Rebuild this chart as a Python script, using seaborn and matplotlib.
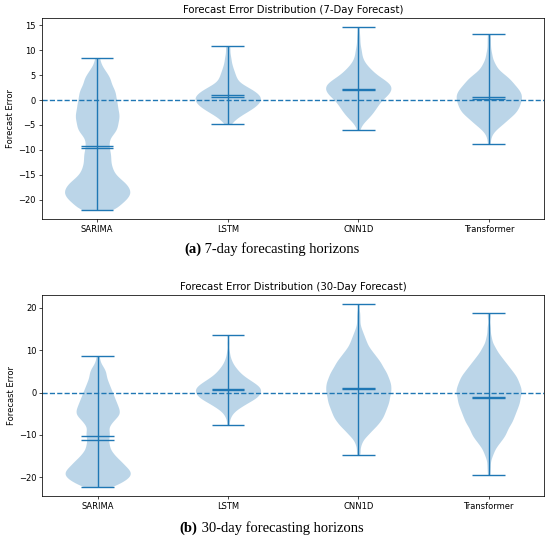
import numpy as np
import pandas as pd
import matplotlib
matplotlib.use("Agg")
import matplotlib.pyplot as plt
from matplotlib.ticker import MultipleLocator
import seaborn as sns

# ---------------- data ----------------
models = ["SARIMA", "LSTM", "CNN1D", "Transformer"]

# 7-day horizon: forecast-error values and how many forecasts fall on each
sarima_7_values = [-22.13, -21.67, -20.67, -19.67, -18.67, -17.67, -16.67, -15.67, -14.67,
                   -13.67, -12.67, -11.67, -10.67, -9.67, -8.67, -7.67, -6.67, -5.67, -4.67,
                   -3.67, -2.67, -1.67, -0.67, 0.33, 1.33, 2.33, 3.33, 4.33, 5.33, 6.33, 7.33,
                   8.33, 8.53]
sarima_7_counts = [6, 9, 15, 18, 20, 19, 17, 13, 10, 9, 8, 8, 8, 7, 7, 7, 10, 12, 12, 13, 13,
                   12, 12, 11, 11, 10, 8, 8, 6, 4, 2, 1, 1]

lstm_7_values = [-4.73, -4.4, -3.4, -2.4, -1.4, -0.4, 0.6, 1.6, 2.6, 3.6, 4.6, 5.6, 6.6, 7.6,
                 8.6, 9.6, 10.6, 10.93]
lstm_7_counts = [1, 2, 6, 11, 16, 19, 20, 17, 12, 6, 5, 4, 3, 2, 2, 1, 1, 1]

cnn_7_values = [-6.07, -4.93, -3.93, -2.93, -1.93, -0.93, 0.07, 1.07, 2.07, 3.07, 4.07, 5.07,
                6.07, 7.07, 8.07, 9.07, 10.07, 11.07, 12.07, 13.07, 14.6]
cnn_7_counts = [1, 2, 5, 8, 10, 12, 14, 18, 20, 20, 16, 11, 8, 5, 3, 2, 2, 1, 1, 1, 1]

trans_7_values = [-8.73, -7.7, -6.7, -5.7, -4.7, -3.7, -2.7, -1.7, -0.7, 0.3, 1.3, 2.3, 3.3,
                  4.3, 5.3, 6.3, 7.3, 8.3, 9.3, 10.3, 11.3, 12.3, 13.27]
trans_7_counts = [1, 1, 2, 5, 9, 12, 16, 18, 19, 20, 20, 18, 15, 13, 9, 5, 4, 2, 2, 1, 1, 1, 1]

# 30-day horizon
sarima_30_values = [-22.28, -21.26, -20.26, -19.26, -18.26, -17.26, -16.26, -15.26, -14.26,
                    -13.26, -12.26, -11.26, -10.26, -9.26, -8.26, -7.26, -6.26, -5.26, -4.26,
                    -3.26, -2.26, -1.26, -0.26, 0.74, 1.74, 2.74, 3.74, 4.74, 5.74, 6.74, 7.74,
                    8.58]
sarima_30_counts = [9, 14, 18, 20, 19, 16, 14, 11, 9, 7, 7, 6, 7, 7, 6, 8, 10, 13, 13, 12, 11,
                    10, 9, 8, 7, 6, 5, 5, 4, 2, 1, 1]

lstm_30_values = [-7.64, -6.3, -5.3, -4.3, -3.3, -2.3, -1.3, -0.3, 0.7, 1.7, 2.7, 3.7, 4.7,
                  5.7, 6.7, 7.7, 8.7, 9.7, 11.7, 13.7]
lstm_30_counts = [1, 1, 2, 4, 8, 12, 17, 19, 20, 18, 14, 10, 7, 5, 3, 2, 1, 1, 1, 1]

cnn_30_values = [-14.65, -13.98, -12.98, -11.98, -10.98, -9.98, -8.98, -7.98, -6.98, -5.98,
                 -4.98, -3.98, -2.98, -1.98, -0.98, 0.02, 1.02, 2.02, 3.02, 4.02, 5.02, 6.02,
                 7.02, 8.02, 9.02, 10.02, 11.02, 12.02, 13.02, 14.02, 15.02, 16.02, 17.02,
                 18.02, 19.02, 20.87]
cnn_30_counts = [1, 1, 1, 2, 3, 6, 8, 11, 13, 15, 16, 17, 18, 19, 19, 20, 20, 20, 19, 18, 17,
                 15, 14, 12, 10, 8, 6, 5, 4, 3, 2, 1, 1, 1, 1, 1]

trans_30_values = [-19.4, -18.18, -17.18, -16.18, -15.18, -14.18, -13.18, -12.18, -11.18,
                   -10.18, -9.18, -8.18, -7.18, -6.18, -5.18, -4.18, -3.18, -2.18, -1.18,
                   -0.18, 0.82, 1.82, 2.82, 3.82, 4.82, 5.82, 6.82, 7.82, 8.82, 9.82, 10.82,
                   11.82, 12.82, 13.82, 14.82, 15.82, 17.82, 18.8]
trans_30_counts = [1, 1, 1, 1, 2, 3, 4, 6, 8, 10, 11, 12, 14, 15, 16, 17, 18, 19, 19, 20, 20,
                   19, 18, 17, 15, 13, 11, 9, 7, 5, 4, 2, 2, 1, 1, 1, 1, 1]

titles = ["Forecast Error Distribution (7-Day Forecast)",
          "Forecast Error Distribution (30-Day Forecast)"]
caption_tags = ["(a)", "(b)"]
caption_texts = [" 7-day forecasting horizons", " 30-day forecasting horizons"]
y_label = "Forecast Error"

# ---------------- style ----------------
C0 = "#1f77b4"
LW = 1.0
KDE_BW = 0.8          # kernel bandwidth in error units
plt.rcParams.update({
    "font.family": ["DejaVu Sans"],
    "axes.linewidth": 0.55,
    "xtick.major.width": 0.5, "ytick.major.width": 0.5,
    "xtick.major.size": 2.1, "ytick.major.size": 2.1,
    "xtick.major.pad": 2.1, "ytick.major.pad": 2.1,
    "xtick.labelsize": 6, "ytick.labelsize": 6,
    "axes.labelsize": 6, "axes.titlesize": 7.3,
    "axes.labelpad": 2.4, "axes.titlepad": 3.6,
})

panels = [
    dict(values=[sarima_7_values, lstm_7_values, cnn_7_values, trans_7_values],
         counts=[sarima_7_counts, lstm_7_counts, cnn_7_counts, trans_7_counts],
         rect=[0.0758, 0.5946, 0.9138, 0.3715], ystep=5, cap=(0.3345, 0.5397)),
    dict(values=[sarima_30_values, lstm_30_values, cnn_30_values, trans_30_values],
         counts=[sarima_30_counts, lstm_30_counts, cnn_30_counts, trans_30_counts],
         rect=[0.0769, 0.0832, 0.9122, 0.3715], ystep=10, cap=(0.327, 0.0234)),
]

fig = plt.figure(figsize=(5.5, 5.41), dpi=100)

for p, (panel, title, tag, ctext) in enumerate(zip(panels, titles, caption_tags, caption_texts)):
    ax = fig.add_axes(panel["rect"])
    all_err = []
    for i, (m, vals, cnts) in enumerate(zip(models, panel["values"], panel["counts"])):
        errs = np.repeat(np.asarray(vals, dtype=float), cnts)
        all_err.append(errs)
        df = pd.DataFrame({"model": m, "error": errs})
        adj = KDE_BW / (errs.std(ddof=1) * errs.size ** (-0.2))
        sns.violinplot(data=df, x="model", y="error", order=models, ax=ax,
                       inner=None, cut=0, density_norm="width", width=0.5,
                       bw_adjust=adj, color=C0, saturation=1, linewidth=0, alpha=0.3)
        lo, hi = errs.min(), errs.max()
        ax.vlines(i, lo, hi, color=C0, lw=LW, zorder=3)
        ax.hlines([lo, hi, errs.mean(), np.median(errs)], i - 0.125, i + 0.125,
                  color=C0, lw=LW, zorder=3)
    allv = np.concatenate(all_err)
    pad = 0.05 * (allv.max() - allv.min())
    ax.set_ylim(allv.min() - pad, allv.max() + pad)
    ax.set_xlim(-0.425, 3.425)
    ax.axhline(0, ls="--", color=C0, lw=LW, zorder=2)
    ax.yaxis.set_major_locator(MultipleLocator(panel["ystep"]))
    ax.set_xlabel("")
    ax.set_ylabel(y_label)
    ax.set_title(title)
    for s in ax.spines.values():
        s.set_visible(True)

    t1 = fig.text(panel["cap"][0], panel["cap"][1], tag, fontsize=10.5, fontweight="bold",
                  family=["Liberation Serif", "DejaVu Serif"], va="center", ha="left")
    fig.canvas.draw()
    ax.annotate(ctext, xy=(1, 0), xycoords=t1, va="bottom", ha="left", fontsize=10.5,
                family=["Liberation Serif", "DejaVu Serif"], annotation_clip=False)

fig.savefig("out.png", dpi=100)
